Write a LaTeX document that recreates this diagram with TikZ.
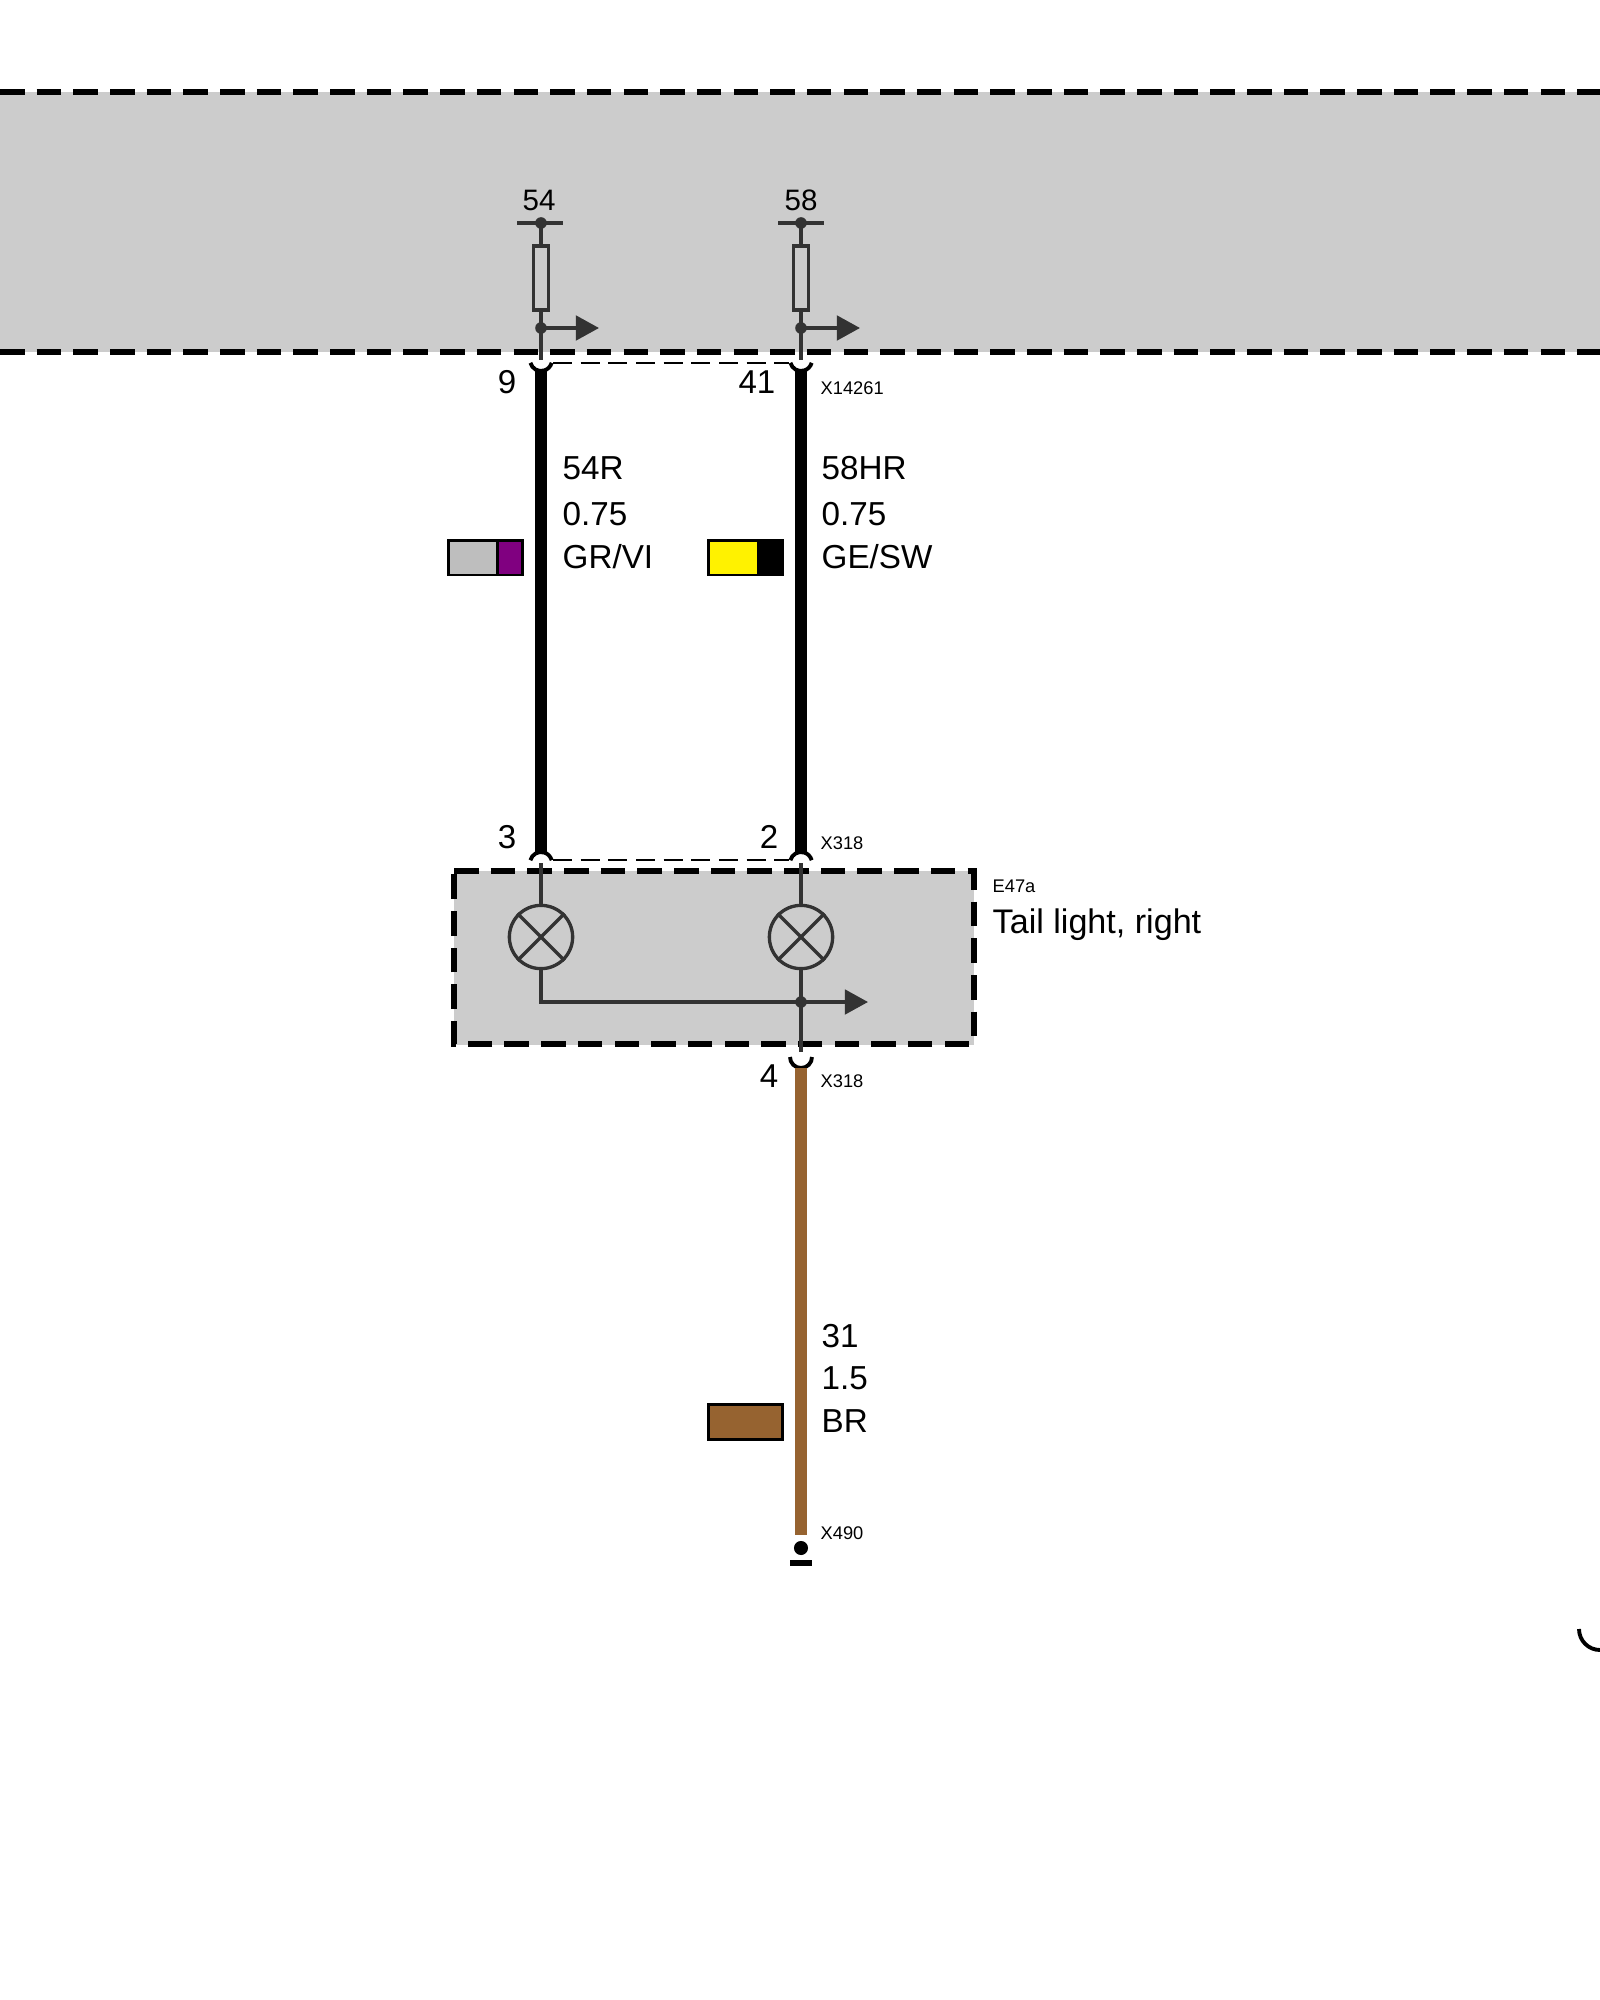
\documentclass[tikz,border=0pt]{standalone}
\usepackage{fontspec}
\setmainfont{Liberation Sans}
\usetikzlibrary{arrows.meta}
\definecolor{zonegray}{HTML}{CCCCCC}
\definecolor{linegray}{HTML}{333333}
\definecolor{wirebrown}{HTML}{966330}
\definecolor{swatchgray}{HTML}{BEBEBE}
\definecolor{swatchviolet}{HTML}{800080}
\tikzset{
  zoneline/.style={black, line width=1.7pt, dash pattern=on 6.97pt off 3.46pt},
  stub/.style={linegray, line width=0.95pt},
  feed/.style={stub, -{Triangle[length=6.6pt,width=7pt]}},
  junction/.style={circle, fill=linegray, inner sep=0pt, outer sep=-1pt, minimum size=3.3pt},
  fuse/.style={draw=linegray, line width=0.95pt, inner sep=0pt, minimum width=4.4pt, minimum height=18.2pt},
  lamp/.style={circle, draw=linegray, line width=0.95pt, inner sep=0pt, minimum size=18pt},
  wire/.style={black, line width=3.55pt},
  brownwire/.style={wirebrown, line width=3.55pt},
  pincup/.style={black, line width=1.1pt},
  bridge/.style={black, line width=0.75pt, dash pattern=on 5.4pt off 2.47pt},
  swatch/.style={draw=black, line width=0.85pt},
  big/.style={inner sep=0pt, anchor=west, font=\fontsize{9.45}{11}\selectfont},
  pinno/.style={inner sep=0pt, anchor=east, font=\fontsize{9.4}{11}\selectfont},
  term/.style={inner sep=0pt, font=\fontsize{8.4}{10}\selectfont},
  tiny/.style={inner sep=0pt, anchor=west, font=\fontsize{5.2}{6}\selectfont}
}
\begin{document}
\begin{tikzpicture}[x=0.01cm, y=-0.01cm]
    \useasboundingbox (0,0) rectangle (1600,2000);
    \clip (0,0) rectangle (1600,2000);

    % Grey zones
    \fill[zonegray] (0,92) rectangle (1600,352);
    \fill[zonegray] (454,871) rectangle (974,1045);
    \draw[zoneline] (0,92) -- (1600,92);
    \draw[zoneline] (0,352) -- (1600,352);
    \draw[zoneline] (454,871) -- (973.5,871) -- (973.5,1044) -- (454,1044) -- cycle;

    % Terminals and fuses
    \node[term] (t54) at (539,200) {54};
    \node[term] (t58) at (801,200) {58};
    \node[junction] (top54) at (541,223) {};
    \node[junction] (top58) at (801,223) {};
    \coordinate (barL54) at (517,223);
    \coordinate (barR54) at (563,223);
    \coordinate (barL58) at (778,223);
    \coordinate (barR58) at (824,223);
    \draw[stub] (barL54) -- (barR54);
    \draw[stub] (barL58) -- (barR58);
    \node[fuse] (fuse54) at (541,278) {};
    \node[fuse] (fuse58) at (801,278) {};
    \node[junction] (split54) at (541,328) {};
    \node[junction] (split58) at (801,328) {};
    \coordinate (out54) at (599,328);
    \coordinate (out58) at (860,328);
    \coordinate (pin9) at (541,360);
    \coordinate (pin41) at (801,360);
    \draw[stub] (top54) -- (fuse54);
    \draw[stub] (top58) -- (fuse58);
    \draw[stub] (fuse54) -- (split54);
    \draw[stub] (fuse58) -- (split58);
    \draw[stub] (split54) -- (pin9);
    \draw[stub] (split58) -- (pin41);
    \draw[feed] (split54) -- (out54);
    \draw[feed] (split58) -- (out58);

    % Upper connector
    \draw[pincup] (pin9) ++(-10.6,2.8) arc[start angle=165, end angle=15, radius=11];
    \draw[pincup] (pin41) ++(-10.6,2.8) arc[start angle=165, end angle=15, radius=11];
    \coordinate (bridgeA) at (553,363);
    \coordinate (bridgeB) at (789,363);
    \draw[bridge] (bridgeA) -- (bridgeB);

    % Lower connector
    \coordinate (pin3) at (541,863);
    \coordinate (pin2) at (801,863);
    \draw[pincup] (pin3) ++(-10.6,-2.8) arc[start angle=-165, end angle=-15, radius=11];
    \draw[pincup] (pin2) ++(-10.6,-2.8) arc[start angle=-165, end angle=-15, radius=11];
    \coordinate (bridgeC) at (553,860);
    \coordinate (bridgeD) at (789,860);
    \draw[bridge] (bridgeC) -- (bridgeD);

    % Wires
    \coordinate (w9) at (541,371);
    \coordinate (w41) at (801,371);
    \coordinate (w3) at (541,852);
    \coordinate (w2) at (801,852);
    \draw[wire] (w9) -- (w3);
    \draw[wire] (w41) -- (w2);

    % Lamps
    \node[lamp] (lampA) at (541,937) {};
    \node[lamp] (lampB) at (801,937) {};
    \draw[stub] (lampA.45) -- (lampA.225);
    \draw[stub] (lampA.135) -- (lampA.315);
    \draw[stub] (lampB.45) -- (lampB.225);
    \draw[stub] (lampB.135) -- (lampB.315);
    \node[junction] (split31) at (801,1002) {};
    \coordinate (out31) at (868,1002);
    \coordinate (pin4) at (801,1057);
    \coordinate (stub4) at (801,1052);
    \draw[stub] (pin3) -- (lampA);
    \draw[stub] (pin2) -- (lampB);
    \draw[stub] (lampB) -- (split31);
    \draw[stub] (split31) -- (stub4);
    \draw[stub] (lampA.south) |- (split31);
    \draw[feed] (split31) -- (out31);

    % Ground wire
    \draw[pincup] (pin4) ++(-11,0) arc[start angle=180, end angle=0, radius=11];
    \coordinate (w4) at (801,1068);
    \coordinate (w490) at (801,1535);
    \draw[brownwire] (w4) -- (w490);
    \node[circle, fill=black, inner sep=0pt, minimum size=4pt] (gnd) at (801,1548) {};
    \node[fill=black, inner sep=0pt, minimum width=6.5pt, minimum height=1.7pt] (gndbar) at (801,1563) {};

    % Colour swatches
    \fill[swatchgray] (447,539) rectangle (497,576);
    \fill[swatchviolet] (497,539) rectangle (524,576);
    \draw[swatch] (497,539) -- (497,576);
    \draw[swatch] (448.5,540.5) rectangle (522.5,575);
    \fill[yellow] (708.5,540.5) rectangle (757,575);
    \fill[black] (757,539) rectangle (783,576);
    \draw[swatch] (708.5,540.5) rectangle (782,575);
    \filldraw[swatch, fill=wirebrown] (708,1404) rectangle (782,1439);

    % Pin numbers
    \node[pinno] (n9) at (517,382) {9};
    \node[pinno] (n41) at (776,382) {41};
    \node[pinno] (n3) at (517,837) {3};
    \node[pinno] (n2) at (779,837) {2};
    \node[pinno] (n4) at (779,1076) {4};

    % Wire labels
    \node[big] (a1) at (562,468) {54R};
    \node[big] (a2) at (562,514) {0.75};
    \node[big] (a3) at (562,557) {GR/VI};
    \node[big] (b1) at (821,468) {58HR};
    \node[big] (b2) at (821,514) {0.75};
    \node[big] (b3) at (821,557) {GE/SW};
    \node[big] (c1) at (821,1336) {31};
    \node[big] (c2) at (821,1378) {1.5};
    \node[big] (c3) at (821,1421) {BR};

    % Connector and component names
    \node[tiny] (x14261) at (820,388) {X14261};
    \node[tiny] (x318a) at (820,843) {X318};
    \node[tiny] (x318b) at (820,1081) {X318};
    \node[tiny] (x490) at (820,1533) {X490};
    \node[tiny] (e47a) at (992,886) {E47a};
    \node[big, font=\fontsize{9.7}{11}\selectfont] (tail) at (992,925) {Tail light, right};

    % Arc cut off at the edge
    \draw[pincup] (1579,1629) arc[start angle=180, end angle=90, radius=21];
\end{tikzpicture}
\end{document}
